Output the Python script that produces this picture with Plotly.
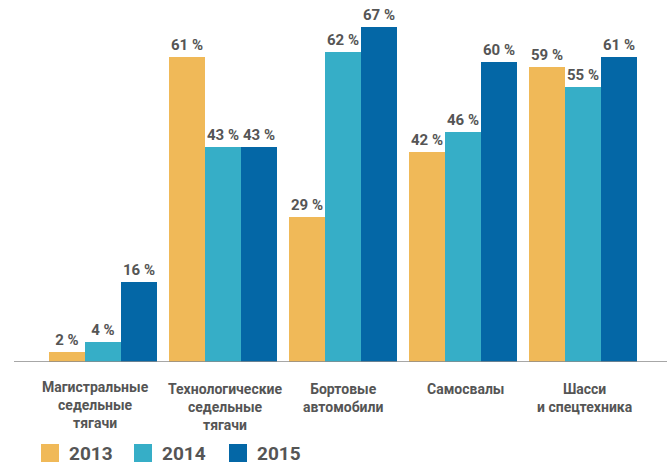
import plotly.graph_objects as go

categories = ["Магистральные<br>седельные<br>тягачи", "Технологические<br>седельные<br>тягачи",
              "Бортовые<br>автомобили", "Самосвалы", "Шасси<br>и спецтехника"]
years = ["2013", "2014", "2015"]
values_2013 = [2, 61, 29, 42, 59]
values_2014 = [4, 43, 62, 46, 55]
values_2015 = [16, 43, 67, 60, 61]
series = [values_2013, values_2014, values_2015]
colors = ["#F0B958", "#36AEC7", "#0467A6"]

W, H = 667, 466
ml, mr, mt, mb = 43, 24, 12, 104
plot_bottom = H - mb
fig = go.Figure()
for name, vals, col in zip(years, series, colors):
    fig.add_trace(go.Bar(
        x=list(range(len(categories))), y=vals, name=name, marker_color=col,
        marker_line_width=0,
        text=[f"{v} %" for v in vals], textposition="outside",
        textfont=dict(family="Roboto", size=15, color="#555555", weight="bold"),
        cliponaxis=False, showlegend=False, hoverinfo="skip"))

pw = W - ml - mr
ph = H - mt - mb
shapes = [dict(type="line", xref="paper", yref="y", x0=-29 / pw, x1=1 + 30 / pw, y0=0, y1=0,
               line=dict(color="#8a8a8a", width=1.5))]
annotations = []
label_shift = [-8, 2, 0, 2, 2]
label_yshift = [-15, -17, -17, -17, -17]
for i, cat in enumerate(categories):
    annotations.append(dict(xref="x", yref="y", x=i, y=0, text=cat, showarrow=False,
                            xanchor="center", yanchor="top", align="center",
                            xshift=label_shift[i], yshift=label_yshift[i],
                            font=dict(family="Roboto", size=14, color="#555555", weight="bold")))
leg_x = [41, 134, 229]
for i, (name, col) in enumerate(zip(years, colors)):
    x0 = (leg_x[i] - ml) / pw
    x1 = (leg_x[i] + 18 - ml) / pw
    y_top = -(444 - plot_bottom) / ph
    y_bot = -(462 - plot_bottom) / ph
    shapes.append(dict(type="rect", xref="paper", yref="paper", x0=x0, x1=x1, y0=y_bot, y1=y_top,
                       fillcolor=col, line_width=0))
    annotations.append(dict(xref="paper", yref="paper", x=(leg_x[i] + 26 - ml) / pw,
                            y=(y_top + y_bot) / 2, text=name, showarrow=False,
                            xanchor="left", yanchor="middle",
                            font=dict(family="Roboto", size=19, color="#555555", weight="bold")))

fig.update_layout(
    width=W, height=H, margin=dict(l=ml, r=mr, t=mt, b=mb),
    plot_bgcolor="white", paper_bgcolor="white",
    barmode="group", bargap=0.1, bargroupgap=0,
    shapes=shapes, annotations=annotations, hovermode=False,
    xaxis=dict(range=[-0.5, 4.5], showticklabels=False, showline=False, showgrid=False,
               zeroline=False, ticks=""),
    yaxis=dict(range=[0, 70], visible=False),
)
fig.write_html("out.html", config={"displayModeBar": False},
               post_script="document.body.style.margin='0';")
